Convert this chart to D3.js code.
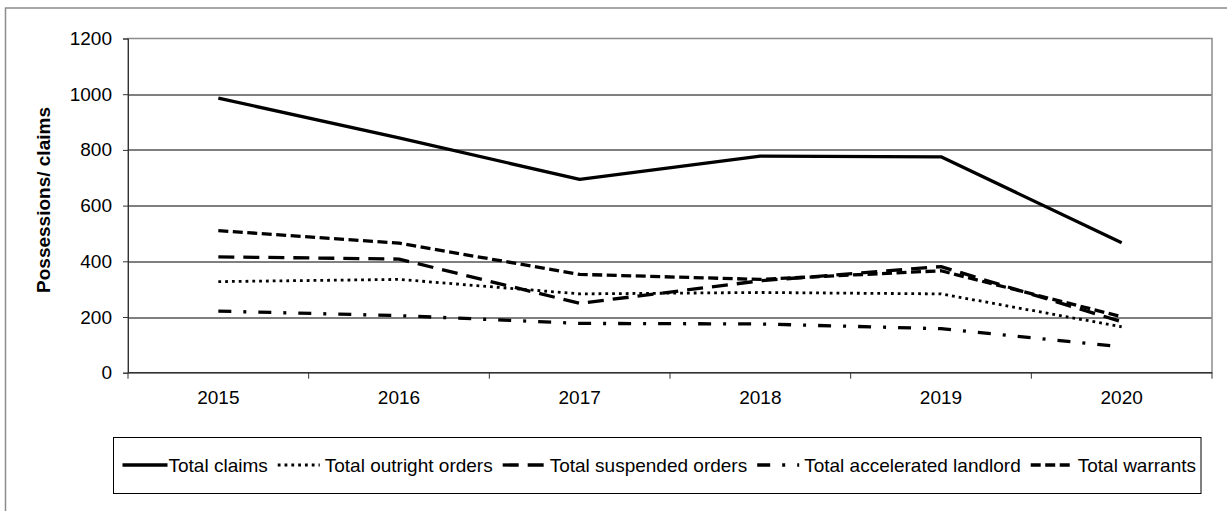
<!DOCTYPE html>
<html>
<head>
<meta charset="utf-8">
<script src="https://cdn.jsdelivr.net/npm/d3@7"></script>
<style>
body{margin:0;background:#fff;}
text{font-family:"Liberation Sans",Arial,sans-serif;fill:#000;}
</style>
</head>
<body>
<div id="canvas"></div>
<script>
// data
var years = ['2015','2016','2017','2018','2019','2020'];
var totalClaims = [986, 843, 694, 778, 775, 467];
var outrightOrders = [327, 335, 283, 288, 283, 165];
var suspendedOrders = [416, 408, 249, 330, 381, 183];
var acceleratedLandlord = [221, 205, 177, 175, 158, 93];
var totalWarrants = [510, 465, 353, 335, 366, 201];
var seriesNames = ['Total claims','Total outright orders','Total suspended orders','Total accelerated landlord','Total warrants'];
var yTicks = [0,200,400,600,800,1000,1200];

var outerWidth = 1227, outerHeight = 511;
var m = {t:38.5, r:15, b:138.3, l:128};
var w = outerWidth - m.l - m.r,
    h = outerHeight - m.t - m.b;
var fontSize = '19px';

var svg = d3.select('#canvas')
    .append('svg')
    .attr('width',outerWidth)
    .attr('height',outerHeight);

// outer chart frame
svg.append('rect')
    .attr('x',5.5).attr('y',8)
    .attr('width',outerWidth+10).attr('height',outerHeight+10)
    .attr('fill','none').attr('stroke','#8c8c8c').attr('stroke-width',1.5);

var plot = svg.append('g')
    .attr('transform','translate(' + m.l + ',' + m.t + ')');

var scaleX = d3.scaleBand().domain(years).range([0,w]);
var scaleY = d3.scaleLinear().domain([0,1200]).range([h,0]);

// line styles per series
var styles = [
    {dash:null, width:3.3},
    {dash:'2.8,4', width:2.8},
    {dash:'16,9', width:3.3},
    {dash:'13,12,3,12', width:3.3},
    {dash:'10,4.5', width:3.3}
];
var series = [totalClaims, outrightOrders, suspendedOrders, acceleratedLandlord, totalWarrants];

// gridlines
plot.selectAll('.grid')
    .data(yTicks.filter(function(d){return d>0 && d<1200;}))
    .enter().append('line')
    .attr('x1',0).attr('x2',w)
    .attr('y1',function(d){return Math.round(scaleY(d))+0.5;})
    .attr('y2',function(d){return Math.round(scaleY(d))+0.5;})
    .attr('stroke','#000').attr('stroke-width',1);

// plot area border
plot.append('rect')
    .attr('x',0).attr('y',0).attr('width',w).attr('height',h)
    .attr('fill','none').attr('stroke','#8c8c8c').attr('stroke-width',1.5);

// y axis
var axisY = d3.axisLeft(scaleY).tickValues(yTicks).tickFormat(d3.format('d')).tickSize(5).tickPadding(11);
var gY = plot.append('g').call(axisY);
gY.select('.domain').attr('stroke','#333');
gY.selectAll('.tick line').attr('stroke','#333');
gY.selectAll('text').attr('font-size',fontSize).attr('font-family','"Liberation Sans",Arial,sans-serif');

// x axis: ticks at band edges
var edges = years.map(function(d){return scaleX(d);}).concat([w]);
var gX = plot.append('g').attr('transform','translate(0,' + h + ')');
gX.append('line').attr('x1',0).attr('x2',w).attr('y1',0).attr('y2',0)
    .attr('stroke','#333').attr('stroke-width',1.5);
gX.selectAll('.xt').data(edges).enter().append('line')
    .attr('x1',function(d){return d;}).attr('x2',function(d){return d;})
    .attr('y1',0).attr('y2',6).attr('stroke','#333');
gX.selectAll('.xl').data(years).enter().append('text')
    .attr('x',function(d){return scaleX(d)+scaleX.bandwidth()/2;})
    .attr('y',31)
    .attr('text-anchor','middle')
    .attr('font-size',fontSize)
    .text(function(d){return d;});

// y title
svg.append('text')
    .attr('transform','translate(50,200) rotate(-90)')
    .attr('text-anchor','middle')
    .attr('font-size',fontSize)
    .attr('font-weight','bold')
    .text('Possessions/ claims');

// lines
var line = d3.line()
    .x(function(d,i){return scaleX(years[i])+scaleX.bandwidth()/2;})
    .y(function(d){return scaleY(d);});

series.forEach(function(s,k){
    plot.append('path')
        .datum(s)
        .attr('d',line)
        .attr('fill','none')
        .attr('stroke','#000')
        .attr('stroke-width',styles[k].width)
        .attr('stroke-linejoin','round')
        .attr('stroke-dasharray',styles[k].dash);
});

// legend
var lg = svg.append('g');
var box = lg.append('rect')
    .attr('x',113.5).attr('y',437.5).attr('height',56)
    .attr('fill','#fff').attr('stroke','#000').attr('stroke-width',1);

var prevEnd = 113.5, ly = 465;
seriesNames.forEach(function(name,k){
    var gap = (k===0 ? 55 : 57);
    lg.append('line')
        .attr('x1',prevEnd+(k===0 ? 9 : 10)).attr('x2',prevEnd+(k===0 ? 54 : 52))
        .attr('y1',ly).attr('y2',ly)
        .attr('stroke','#000')
        .attr('stroke-width',styles[k].width)
        .attr('stroke-dasharray',styles[k].dash);
    var t = lg.append('text')
        .attr('x',prevEnd+gap)
        .attr('y',ly)
        .attr('dy','0.35em')
        .attr('font-size',fontSize)
        .text(name);
    prevEnd = prevEnd + gap + t.node().getComputedTextLength();
});
box.attr('width',prevEnd + 5 - 113.5);
</script>
</body>
</html>
